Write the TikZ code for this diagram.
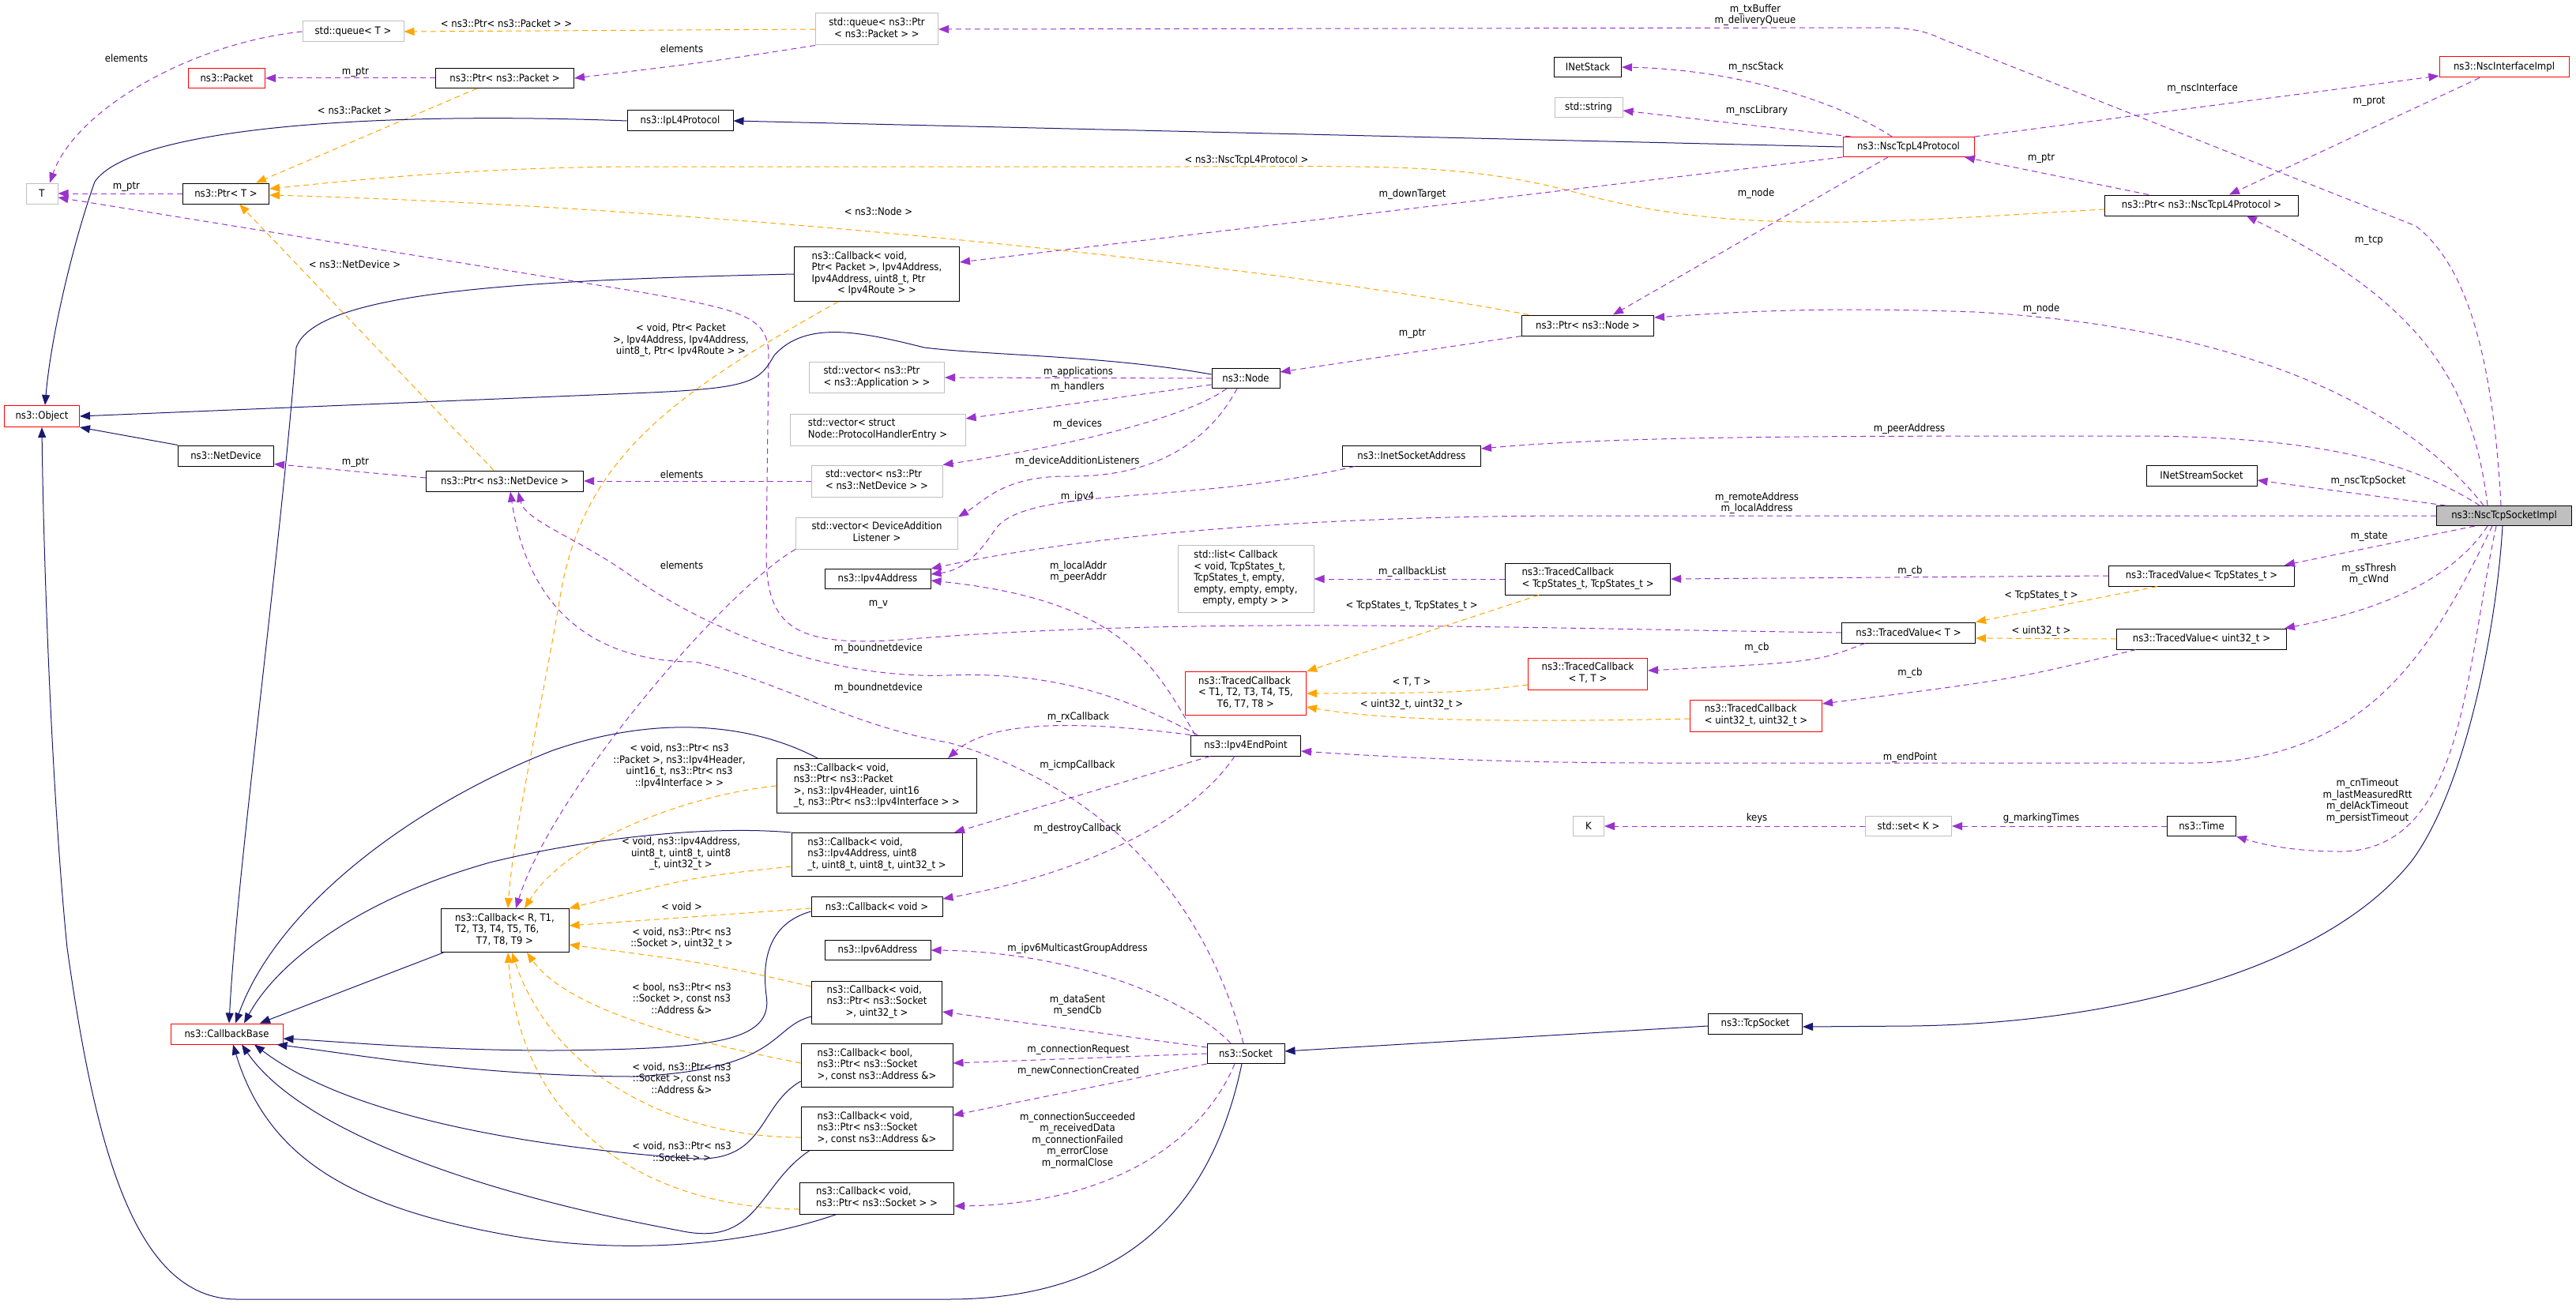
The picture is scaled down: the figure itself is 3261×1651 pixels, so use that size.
\documentclass[tikz,border=0pt]{standalone}
\usepackage{fontspec}
\setmainfont{DejaVu Sans Condensed}
\usepackage{tikz}
\usetikzlibrary{arrows.meta,positioning,calc}

\definecolor{edgepurple}{HTML}{9A32CD}
\definecolor{edgeorange}{HTML}{FFA500}
\definecolor{edgenavy}{HTML}{191970}
\definecolor{boxgray}{HTML}{BFBFBF}
\definecolor{boxred}{HTML}{FF0000}
\newcommand{\diafont}{\fontsize{13}{14.5}\selectfont}
% lines flush left, last line centred
\newcommand{\dlines}[2]{\begin{tabular}{@{}l@{}}#1\\\multicolumn{1}{@{}c@{}}{#2}\end{tabular}}

\begin{document}
\begin{tikzpicture}[
  x=1pt, y=-1pt,
  cls/.style={draw=black, fill=white, line width=1pt, align=center,
              inner sep=2pt, font=\diafont},
  ext/.style={cls, draw=boxgray},
  redbox/.style={cls, draw=boxred},
  mainbox/.style={cls, fill=boxgray},
  bw/.style={minimum width=#1pt},
  bh/.style={minimum height=#1pt},
  lbl/.style={font=\diafont, align=center, inner sep=0pt},
  mem/.style={draw=edgepurple, line width=1pt, dash pattern=on 7pt off 5pt,
              -{Triangle[length=13pt,width=10pt]}},
  tpl/.style={mem, draw=edgeorange},
  inh/.style={draw=edgenavy, line width=1pt, -{Triangle[length=13pt,width=10pt]}}
]
  \useasboundingbox (0,0) rectangle (3261,1651);

  % classes
  \node[ext, bw=128, bh=26] (queueT) at (447,40) {std::queue< T >};
  \node[redbox, bw=97, bh=25] (pkt) at (287,99) {ns3::Packet};
  \node[cls, bw=175, bh=25] (ptrpkt) at (639,99) {ns3::Ptr< ns3::Packet >};
  \node[cls, bw=134, bh=26] (ipl4) at (861,153) {ns3::IpL4Protocol};
  \node[ext, bw=40, bh=26] (T) at (53,245) {T};
  \node[cls, bw=109, bh=26] (ptrT) at (286,245) {ns3::Ptr< T >};
  \node[redbox, bw=95, bh=27] (obj) at (53,527) {ns3::Object};
  \node[ext, bw=155, bh=40] (queuePkt) at (1110,37) {\dlines{std::queue< ns3::Ptr}{< ns3::Packet > >}};
  \node[cls, bw=209, bh=69] (cbRoute) at (1110,347)
    {\dlines{ns3::Callback< void,\\ Ptr< Packet >, Ipv4Address,\\Ipv4Address, uint8\_t, Ptr}{< Ipv4Route > >}};
  \node[ext, bw=171, bh=39] (vecApp) at (1110,478) {\dlines{std::vector< ns3::Ptr}{< ns3::Application > >}};
  \node[cls, bw=86, bh=25] (nodeC) at (1577,479) {ns3::Node};
  \node[ext, bw=222, bh=40] (vecHandler) at (1111,544) {\dlines{std::vector< struct}{ Node::ProtocolHandlerEntry >}};
  \node[cls, bw=85, bh=25] (inetstack) at (2010,85) {INetStack};
  \node[ext, bw=86, bh=25] (string) at (2011,136) {std::string};
  \node[redbox, bw=166, bh=25] (nscl4) at (2416,186) {ns3::NscTcpL4Protocol};
  \node[cls, bw=167, bh=26] (ptrNode) at (2010,412) {ns3::Ptr< ns3::Node >};
  \node[redbox, bw=164, bh=26] (nscif) at (3170,85) {ns3::NscInterfaceImpl};
  \node[cls, bw=245, bh=26] (ptrNscl4) at (2787,260) {ns3::Ptr< ns3::NscTcpL4Protocol >};
  \node[cls, bw=121, bh=26] (netdev) at (286,577) {ns3::NetDevice};
  \node[cls, bw=199, bh=26] (ptrNetdev) at (639,609) {ns3::Ptr< ns3::NetDevice >};
  \node[ext, bw=166, bh=40] (vecNetdev) at (1110,609) {\dlines{std::vector< ns3::Ptr}{< ns3::NetDevice > >}};
  \node[ext, bw=205, bh=40] (vecListener) at (1110,675) {\dlines{std::vector< DeviceAddition}{Listener >}};
  \node[cls, bw=134, bh=25] (ipv4addr) at (1111,733) {ns3::Ipv4Address};
  \node[ext, bw=172, bh=85] (cbList) at (1577,733)
    {\dlines{std::list< Callback\\< void, TcpStates\_t,\\ TcpStates\_t, empty,\\ empty, empty, empty,}{empty, empty > >}};
  \node[redbox, bw=153, bh=55] (tcbAll) at (1577,878) {\dlines{ns3::TracedCallback\\< T1, T2, T3, T4, T5,}{T6, T7, T8 >}};
  \node[cls, bw=139, bh=26] (endpoint) at (1577,944) {ns3::Ipv4EndPoint};
  \node[cls, bw=253, bh=69] (cbHeader) at (1110,995)
    {\dlines{ns3::Callback< void,\\ ns3::Ptr< ns3::Packet\\ >, ns3::Ipv4Header, uint16}{\_t, ns3::Ptr< ns3::Ipv4Interface > >}};
  \node[cls, bw=216, bh=55] (cbIcmp) at (1110,1082)
    {\dlines{ns3::Callback< void,\\ ns3::Ipv4Address, uint8}{\_t, uint8\_t, uint8\_t, uint32\_t >}};
  \node[cls, bw=175, bh=26] (inetsock) at (1787,577) {ns3::InetSocketAddress};
  \node[cls, bw=209, bh=40] (tcbStates) at (2010,733) {\dlines{ns3::TracedCallback}{< TcpStates\_t, TcpStates\_t >}};
  \node[cls, bw=169, bh=26] (tvT) at (2416,801) {ns3::TracedValue< T >};
  \node[redbox, bw=151, bh=40] (tcbTT) at (2010,853) {\dlines{ns3::TracedCallback}{< T, T >}};
  \node[redbox, bw=167, bh=40] (tcbU32) at (2223,906) {\dlines{ns3::TracedCallback}{< uint32\_t, uint32\_t >}};
  \node[ext, bw=39, bh=25] (K) at (2011,1046) {K};
  \node[ext, bw=109, bh=25] (setK) at (2416,1046) {std::set< K >};
  \node[cls, bw=140, bh=26] (inetstream) at (2787,602) {INetStreamSocket};
  \node[mainbox, bw=171, bh=25] (sockImpl) at (3170,653) {ns3::NscTcpSocketImpl};
  \node[cls, bw=235, bh=26] (tvStates) at (2787,729) {ns3::TracedValue< TcpStates\_t >};
  \node[cls, bw=215, bh=26] (tvU32) at (2787,809) {ns3::TracedValue< uint32\_t >};
  \node[cls, bw=87, bh=25] (time) at (2787,1046) {ns3::Time};
  \node[cls, bw=162, bh=55] (cbR) at (639,1178) {\dlines{ns3::Callback< R, T1,\\ T2, T3, T4, T5, T6,}{T7, T8, T9 >}};
  \node[redbox, bw=142, bh=26] (cbBase) at (287,1309) {ns3::CallbackBase};
  \node[cls, bw=166, bh=25] (cbVoid) at (1110,1148) {ns3::Callback< void >};
  \node[cls, bw=134, bh=25] (ipv6addr) at (1111,1203) {ns3::Ipv6Address};
  \node[cls, bw=165, bh=54] (cbSent) at (1110,1269) {\dlines{ns3::Callback< void,\\ ns3::Ptr< ns3::Socket}{>, uint32\_t >}};
  \node[cls, bw=192, bh=55] (cbReq) at (1110,1349) {\dlines{ns3::Callback< bool,\\ ns3::Ptr< ns3::Socket}{>, const ns3::Address \&>}};
  \node[cls, bw=98, bh=25] (socket) at (1577,1334) {ns3::Socket};
  \node[cls, bw=192, bh=55] (cbNew) at (1110,1429) {\dlines{ns3::Callback< void,\\ ns3::Ptr< ns3::Socket}{>, const ns3::Address \&>}};
  \node[cls, bw=195, bh=40] (cbSock) at (1110,1517) {\dlines{ns3::Callback< void,}{ ns3::Ptr< ns3::Socket > >}};
  \node[cls, bw=119, bh=26] (tcpsock) at (2222,1296) {ns3::TcpSocket};

  % edge labels
  \node[lbl] (lqT) at (160,74) {elements};
  \node[lbl] (lqPkt) at (641,30) {< ns3::Ptr< ns3::Packet > >};
  \node[lbl] (lqElem) at (863,62) {elements};
  \node[lbl] (lpktPtr) at (450,91) {m\_ptr};
  \node[lbl] (lpktTpl) at (449,140) {< ns3::Packet >};
  \node[lbl] (lTptr) at (160,236) {m\_ptr};
  \node[lbl] (lndTpl) at (449,335) {< ns3::NetDevice >};
  \node[lbl] (lrouteTpl) at (862,431) {< void, Ptr< Packet\\>, Ipv4Address, Ipv4Address,\\uint8\_t, Ptr< Ipv4Route > >};
  \node[lbl] (ltx) at (2222,19) {m\_txBuffer\\m\_deliveryQueue};
  \node[lbl] (lstack) at (2223,85) {m\_nscStack};
  \node[lbl] (llib) at (2224,140) {m\_nscLibrary};
  \node[lbl] (ldown) at (1788,246) {m\_downTarget};
  \node[lbl] (lnode1) at (2223,245) {m\_node};
  \node[lbl] (lnodePtr) at (1788,422) {m\_ptr};
  \node[lbl] (lpeer) at (2417,543) {m\_peerAddress};
  \node[lbl] (lnscTpl) at (1578,203) {< ns3::NscTcpL4Protocol >};
  \node[lbl] (lnodeTpl) at (1112,268) {< ns3::Node >};
  \node[lbl] (lif) at (2788,112) {m\_nscInterface};
  \node[lbl] (lprot) at (2999,128) {m\_prot};
  \node[lbl] (lnscPtr) at (2584,200) {m\_ptr};
  \node[lbl] (ltcp) at (2999,304) {m\_tcp};
  \node[lbl] (lnode2) at (2584,391) {m\_node};
  \node[lbl] (lapps) at (1365,471) {m\_applications};
  \node[lbl] (lhand) at (1364,490) {m\_handlers};
  \node[lbl] (ldevs) at (1364,537) {m\_devices};
  \node[lbl] (lndPtr) at (450,585) {m\_ptr};
  \node[lbl] (lndElem) at (863,601) {elements};
  \node[lbl] (llisten) at (1364,584) {m\_deviceAdditionListeners};
  \node[lbl] (lipv4) at (1364,629) {m\_ipv4};
  \node[lbl] (lcbElem) at (863,716) {elements};
  \node[lbl] (laddr) at (1365,724) {m\_localAddr\\m\_peerAddr};
  \node[lbl] (lv) at (1112,765) {m\_v};
  \node[lbl] (lbound1) at (1112,821) {m\_boundnetdevice};
  \node[lbl] (lbound2) at (1112,871) {m\_boundnetdevice};
  \node[lbl] (lrx) at (1365,908) {m\_rxCallback};
  \node[lbl] (licmp) at (1364,969) {m\_icmpCallback};
  \node[lbl] (ldestroy) at (1364,1049) {m\_destroyCallback};
  \node[lbl] (lheaderTpl) at (860,970) {< void, ns3::Ptr< ns3\\::Packet >, ns3::Ipv4Header,\\uint16\_t, ns3::Ptr< ns3\\::Ipv4Interface > >};
  \node[lbl] (licmpTpl) at (862,1081) {< void, ns3::Ipv4Address,\\uint8\_t, uint8\_t, uint8\\\_t, uint32\_t >};
  \node[lbl] (lremote) at (2224,637) {m\_remoteAddress\\m\_localAddress};
  \node[lbl] (lcblist) at (1788,724) {m\_callbackList};
  \node[lbl] (lstatesTpl) at (1787,767) {< TcpStates\_t, TcpStates\_t >};
  \node[lbl] (lcb1) at (2418,723) {m\_cb};
  \node[lbl] (lcb2) at (2224,820) {m\_cb};
  \node[lbl] (lttTpl) at (1787,864) {< T, T >};
  \node[lbl] (lu32Tpl) at (1787,892) {< uint32\_t, uint32\_t >};
  \node[lbl] (lcb3) at (2418,852) {m\_cb};
  \node[lbl] (lend) at (2418,959) {m\_endPoint};
  \node[lbl] (lkeys) at (2224,1036) {keys};
  \node[lbl] (lnscsock) at (2998,609) {m\_nscTcpSocket};
  \node[lbl] (lstate) at (2999,679) {m\_state};
  \node[lbl] (ltvsTpl) at (2584,754) {< TcpStates\_t >};
  \node[lbl] (lwnd) at (2999,727) {m\_ssThresh\\m\_cWnd};
  \node[lbl] (ltvuTpl) at (2584,799) {< uint32\_t >};
  \node[lbl] (ltimes) at (2997,1014) {m\_cnTimeout\\m\_lastMeasuredRtt\\m\_delAckTimeout\\m\_persistTimeout};
  \node[lbl] (lmark) at (2584,1036) {g\_markingTimes};
  \node[lbl] (lvoidTpl) at (863,1148) {< void >};
  \node[lbl] (lsentTpl) at (863,1188) {< void, ns3::Ptr< ns3\\::Socket >, uint32\_t >};
  \node[lbl] (lipv6) at (1364,1201) {m\_ipv6MulticastGroupAddress};
  \node[lbl] (lsent) at (1364,1273) {m\_dataSent\\m\_sendCb};
  \node[lbl] (lreqTpl) at (863,1264) {< bool, ns3::Ptr< ns3\\::Socket >, const ns3\\::Address \&>};
  \node[lbl] (lreq) at (1365,1329) {m\_connectionRequest};
  \node[lbl] (lnew) at (1365,1356) {m\_newConnectionCreated};
  \node[lbl] (lnewTpl) at (863,1365) {< void, ns3::Ptr< ns3\\::Socket >, const ns3\\::Address \&>};
  \node[lbl] (lsucc) at (1364,1444) {m\_connectionSucceeded\\m\_receivedData\\m\_connectionFailed\\m\_errorClose\\m\_normalClose};
  \node[lbl] (lsockTpl) at (863,1458) {< void, ns3::Ptr< ns3\\::Socket > >};

  % top left
  \draw[mem] (queueT.west) .. controls (240,55) and (95,140) .. ([xshift=10pt]T.north);
  \draw[tpl] (queuePkt.west) -- (queueT.east);
  \draw[mem] (queuePkt.south west) .. controls (900,78) .. (ptrpkt.east);
  \draw[mem] (ptrpkt.west) -- (pkt.east);
  \draw[tpl] ([xshift=-35pt]ptrpkt.south) -- ([xshift=38pt]ptrT.north);
  \draw[inh] (ipl4.west) .. controls (450,140) and (165,165) .. (120,230) .. controls (95,300) and (65,420) .. ([xshift=4pt]obj.north);
  \draw[inh] (nscl4.west) -- (ipl4.east);
  \draw[tpl] ([yshift=-5pt]ptrNscl4.west) .. controls (2400,280) and (2200,300) .. (2000,245) .. controls (1850,205) and (1750,211) .. (1500,211) -- (800,211) .. controls (600,212) and (450,228) .. ([yshift=6pt]ptrT.east);
  \draw[tpl] ([xshift=-75pt]ptrNode.north) .. controls (1600,335) and (900,262) .. ([yshift=-2pt]ptrT.east);
  \draw[tpl] ([xshift=-14pt]ptrNetdev.north) -- ([xshift=17pt]ptrT.south);
  \draw[mem] (ptrT.west) -- (T.east);
  \draw[mem] (tvT.west) .. controls (1900,795) and (1500,780) .. (1140,810) .. controls (1000,820) and (970,790) .. (970,700) -- (973,450) .. controls (973,400) and (940,392) .. (800,368) -- ([yshift=-5pt]T.east);
  \draw[mem] ([yshift=4pt]ptrNetdev.west) -- ([yshift=3pt]netdev.south east);
  \draw[inh] (netdev.north west) -- (obj.south east);
  \draw[inh] ([yshift=5pt]nodeC.west) .. controls (1400,450) and (1250,450) .. (1170,440) .. controls (1090,420) and (1020,405) .. (980,450) .. controls (960,485) and (950,492) .. (800,498) -- (obj.east);
  \draw[inh] (cbRoute.west) .. controls (650,355) and (400,370) .. (375,440) .. controls (355,700) and (300,1100) .. ([xshift=3pt]cbBase.north);
  \draw[tpl] ([xshift=-49pt]cbRoute.south) .. controls (850,500) and (740,580) .. (710,750) .. controls (685,900) and (650,1050) .. ([xshift=4pt]cbR.north);

  % NscTcpL4Protocol
  \draw[mem] (nscl4.south west) -- ([yshift=15pt]cbRoute.east);
  \draw[mem] ([xshift=-21pt]nscl4.north) .. controls (2330,130) and (2200,88) .. (inetstack.east);
  \draw[mem] ([xshift=-73pt]nscl4.north) -- ([yshift=-4pt]string.east);
  \draw[mem] (nscl4.north east) -- ([yshift=-11pt]nscif.west);
  \draw[mem] ([xshift=-26pt]nscl4.south) -- ([xshift=32pt]ptrNode.north);
  \draw[mem] (ptrNode.south west) -- ([yshift=8pt]nodeC.east);
  \draw[mem] ([xshift=-67pt]ptrNscl4.north) -- ([xshift=71pt]nscl4.south);
  \draw[mem] ([xshift=-31pt]nscif.south) -- ([xshift=35pt]ptrNscl4.north);

  % NscTcpSocketImpl
  \draw[mem] ([xshift=-21pt]sockImpl.north) .. controls (3130,480) and (3060,380) .. ([xshift=57pt]ptrNscl4.south);
  \draw[mem] ([xshift=-4pt]sockImpl.north) .. controls (3155,430) and (3115,330) .. (3058,286) -- (2460,50) .. controls (2435,38) and (2415,35) .. (2380,35) -- (queuePkt.east);
  \draw[mem] ([xshift=-26pt]sockImpl.north) .. controls (3050,520) and (2850,415) .. (2500,395) .. controls (2300,388) and (2200,395) .. ([yshift=10pt]ptrNode.east);
  \draw[mem] ([xshift=-31pt]sockImpl.north) .. controls (3060,590) and (2950,552) .. (2700,552) .. controls (2300,552) and (2050,552) .. ([yshift=9pt]inetsock.east);
  \draw[mem] (sockImpl.west) -- (2000,653) .. controls (1700,653) and (1400,672) .. (ipv4addr.north east);
  \draw[mem] ([xshift=-74pt]sockImpl.north) -- ([yshift=-6pt]inetstream.east);
  \draw[mem] ([xshift=-37pt]sockImpl.south) -- ([xshift=105pt]tvStates.north);
  \draw[mem] ([xshift=-21pt]sockImpl.south) .. controls (3100,740) and (3000,775) .. ([xshift=105pt]tvU32.north);
  \draw[mem] ([xshift=-15pt]sockImpl.south) .. controls (3080,820) and (3000,962) .. (2780,966) -- (2100,966) .. controls (1900,966) and (1750,958) .. ([yshift=-7pt]endpoint.east);
  \draw[mem] ([xshift=-10pt]sockImpl.south) .. controls (3120,850) and (3120,1080) .. (2960,1078) .. controls (2900,1078) and (2860,1068) .. (time.south east);
  \draw[inh] ([xshift=-2pt]sockImpl.south) .. controls (3160,800) and (3120,1000) .. (3053,1090) .. controls (2950,1220) and (2700,1295) .. (2420,1299) -- ([yshift=-4pt]tcpsock.east);

  % Node
  \draw[mem] (nodeC.west) -- (vecApp.east);
  \draw[mem] ([yshift=-8pt]nodeC.west) -- ([yshift=14pt]vecHandler.east);
  \draw[mem] ([xshift=-24pt]nodeC.south) .. controls (1500,530) and (1350,565) .. (vecNetdev.north east);
  \draw[mem] ([xshift=-11pt]nodeC.south) .. controls (1530,560) and (1460,605) .. (1350,603) .. controls (1270,603) and (1245,635) .. (vecListener.north east);
  \draw[mem] (vecNetdev.west) -- (ptrNetdev.east);
  \draw[mem] (vecListener.south west) .. controls (920,745) and (700,1000) .. ([xshift=14pt]cbR.north);
  \draw[mem] ([xshift=-72pt]inetsock.south) .. controls (1500,640) and (1300,615) .. (1260,670) .. controls (1240,700) and (1220,722) .. ([yshift=6pt]ipv4addr.east);

  % traced values
  \draw[mem] (tcbStates.west) -- (cbList.east);
  \draw[tpl] ([xshift=-62pt]tcbStates.south) -- (tcbAll.north east);
  \draw[mem] (tvStates.west) -- (tcbStates.east);
  \draw[tpl] ([xshift=-56pt]tvStates.south) -- (tvT.north east);
  \draw[mem] ([xshift=-55pt]tvT.south) .. controls (2300,838) .. ([yshift=4pt]tcbTT.east);
  \draw[tpl] ([yshift=-14pt]tcbTT.west) .. controls (1850,877) .. (tcbAll.east);
  \draw[tpl] ([yshift=-4pt]tcbU32.west) .. controls (1900,915) and (1750,912) .. ([yshift=-17pt]tcbAll.east);
  \draw[tpl] (tvU32.west) -- ([yshift=-7pt]tvT.east);
  \draw[mem] ([xshift=-83pt]tvU32.south) .. controls (2550,860) .. ([yshift=15pt]tcbU32.east);
  \draw[mem] (time.west) -- (setK.east);
  \draw[mem] (setK.west) -- (K.east);

  % Ipv4EndPoint
  \draw[mem] ([xshift=-64pt]endpoint.north) .. controls (1460,840) and (1420,760) .. ([yshift=-2pt]ipv4addr.east);
  \draw[mem] ([xshift=-61pt]endpoint.north) .. controls (1420,880) and (1330,850) .. (1200,855) .. controls (1050,860) and (900,800) .. (800,730) .. controls (730,680) and (665,660) .. ([xshift=17pt]ptrNetdev.south);
  \draw[mem] (endpoint.north west) .. controls (1350,910) and (1250,915) .. ([xshift=90pt]cbHeader.north);
  \draw[mem] ([xshift=-45pt]endpoint.south) -- ([xshift=98pt]cbIcmp.north);
  \draw[mem] ([xshift=-14pt]endpoint.south) .. controls (1500,1050) and (1350,1110) .. ([yshift=10pt]cbVoid.east);

  % callbacks
  \draw[inh] ([xshift=-75pt]cbHeader.north) .. controls (950,915) and (830,905) .. (700,950) .. controls (520,1020) and (350,1150) .. ([xshift=11pt]cbBase.north);
  \draw[tpl] (cbHeader.west) .. controls (880,1005) and (720,1060) .. ([xshift=25pt]cbR.north);
  \draw[inh] (cbIcmp.north west) .. controls (900,1045) and (750,1060) .. (620,1092) .. controls (450,1140) and (350,1220) .. ([xshift=22pt]cbBase.north);
  \draw[tpl] ([yshift=-15pt]cbIcmp.west) .. controls (880,1110) .. (cbR.north east);
  \draw[inh] ([xshift=4pt]cbR.south west) -- ([xshift=42pt]cbBase.north);
  \draw[inh] ([yshift=-6pt]cbVoid.west) .. controls (970,1170) and (965,1220) .. (970,1260) .. controls (980,1320) and (900,1328) .. (700,1330) .. controls (550,1330) and (420,1318) .. ([yshift=-6pt]cbBase.east);
  \draw[tpl] ([yshift=-2pt]cbVoid.west) -- ([yshift=6pt]cbR.east);
  \draw[tpl] ([yshift=20pt]cbSent.west) .. controls (900,1220) .. ([yshift=-18pt]cbR.east);
  \draw[tpl] ([yshift=3pt]cbReq.west) .. controls (880,1320) and (720,1280) .. ([xshift=28pt]cbR.south);
  \draw[tpl] ([yshift=-11pt]cbNew.west) .. controls (850,1440) and (700,1360) .. ([xshift=9pt]cbR.south);
  \draw[tpl] ([yshift=-14pt]cbSock.west) .. controls (850,1530) and (660,1450) .. ([xshift=4pt]cbR.south);
  \draw[inh] ([yshift=-18pt]cbSent.west) .. controls (975,1300) and (990,1355) .. (800,1363) .. controls (600,1362) and (450,1335) .. ([xshift=-8pt]cbBase.south east);
  \draw[inh] ([yshift=8pt]cbReq.south west) .. controls (960,1400) and (970,1470) .. (880,1467) .. controls (700,1455) and (450,1420) .. ([xshift=35pt]cbBase.south);
  \draw[inh] ([xshift=11pt]cbNew.south west) .. controls (960,1500) and (960,1580) .. (860,1558) .. controls (600,1510) and (380,1430) .. ([xshift=19pt]cbBase.south);
  \draw[inh] ([xshift=-51pt]cbSock.south) .. controls (950,1575) and (800,1590) .. (650,1565) .. controls (450,1530) and (340,1470) .. ([xshift=8pt]cbBase.south);

  % Socket
  \draw[inh] ([xshift=-5pt]socket.south) .. controls (1540,1500) and (1450,1645) .. (1200,1645) -- (300,1645) .. controls (170,1645) and (120,1450) .. (85,1200) .. controls (65,1000) and (55,700) .. (obj.south);
  \draw[inh] ([yshift=-3pt]tcpsock.west) -- ([yshift=3pt]socket.east);
  \draw[mem] ([xshift=-3pt]socket.north) .. controls (1520,1120) and (1380,990) .. (1200,940) .. controls (1080,920) and (980,860) .. (880,838) .. controls (760,838) and (670,780) .. ([xshift=7pt]ptrNetdev.south);
  \draw[mem] ([xshift=-19pt]socket.north) .. controls (1500,1260) and (1350,1205) .. (ipv6addr.east);
  \draw[mem] ([yshift=8pt]socket.west) -- ([yshift=-12pt]cbSent.east);
  \draw[mem] (socket.west) -- ([yshift=3pt]cbReq.east);
  \draw[mem] (socket.south west) -- ([yshift=17pt]cbNew.east);
  \draw[mem] ([xshift=-14pt]socket.south) .. controls (1520,1450) and (1400,1525) .. ([yshift=-10pt]cbSock.east);
\end{tikzpicture}
\end{document}
